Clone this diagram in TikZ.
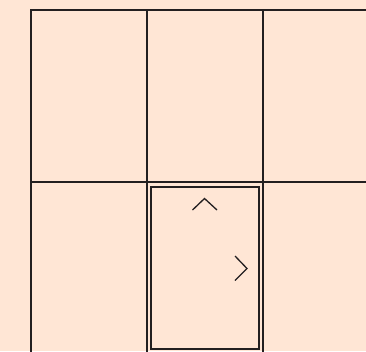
\documentclass[tikz,border=0pt]{standalone}
\usepackage{xcolor}
\usepackage{tikz}
\usetikzlibrary{positioning}
\definecolor{peach}{HTML}{FFE6D5}
\definecolor{ink}{HTML}{231F20}

\begin{document}
\begin{tikzpicture}[
    x=1pt, y=-1pt,
    gridline/.style={draw=ink, line width=2pt},
    frame/.style={draw=ink, line width=1.6pt},
    chevron/.style={draw=ink, line width=1.3pt}
]
    \fill[peach] (0,0) rectangle (366,351);
    \useasboundingbox (0,0) rectangle (366,351);

    % cells
    \foreach \x in {31,147,263}
        \draw[gridline] (\x,10) -- (\x,352);
    \foreach \y in {10,182}
        \draw[gridline] (30,\y) -- (367,\y);

    % door in middle bottom cell
    \draw[frame] (151,187) rectangle (259,349);
    \coordinate (up) at (204.5,198.5);
    \coordinate (right) at (247,268.5);
    \draw[chevron] ([shift={(-12,11.5)}]up) -- (up) -- ([shift={(12.5,11.5)}]up);
    \draw[chevron] ([shift={(-12,-12.5)}]right) -- (right) -- ([shift={(-12,12)}]right);
\end{tikzpicture}
\end{document}
